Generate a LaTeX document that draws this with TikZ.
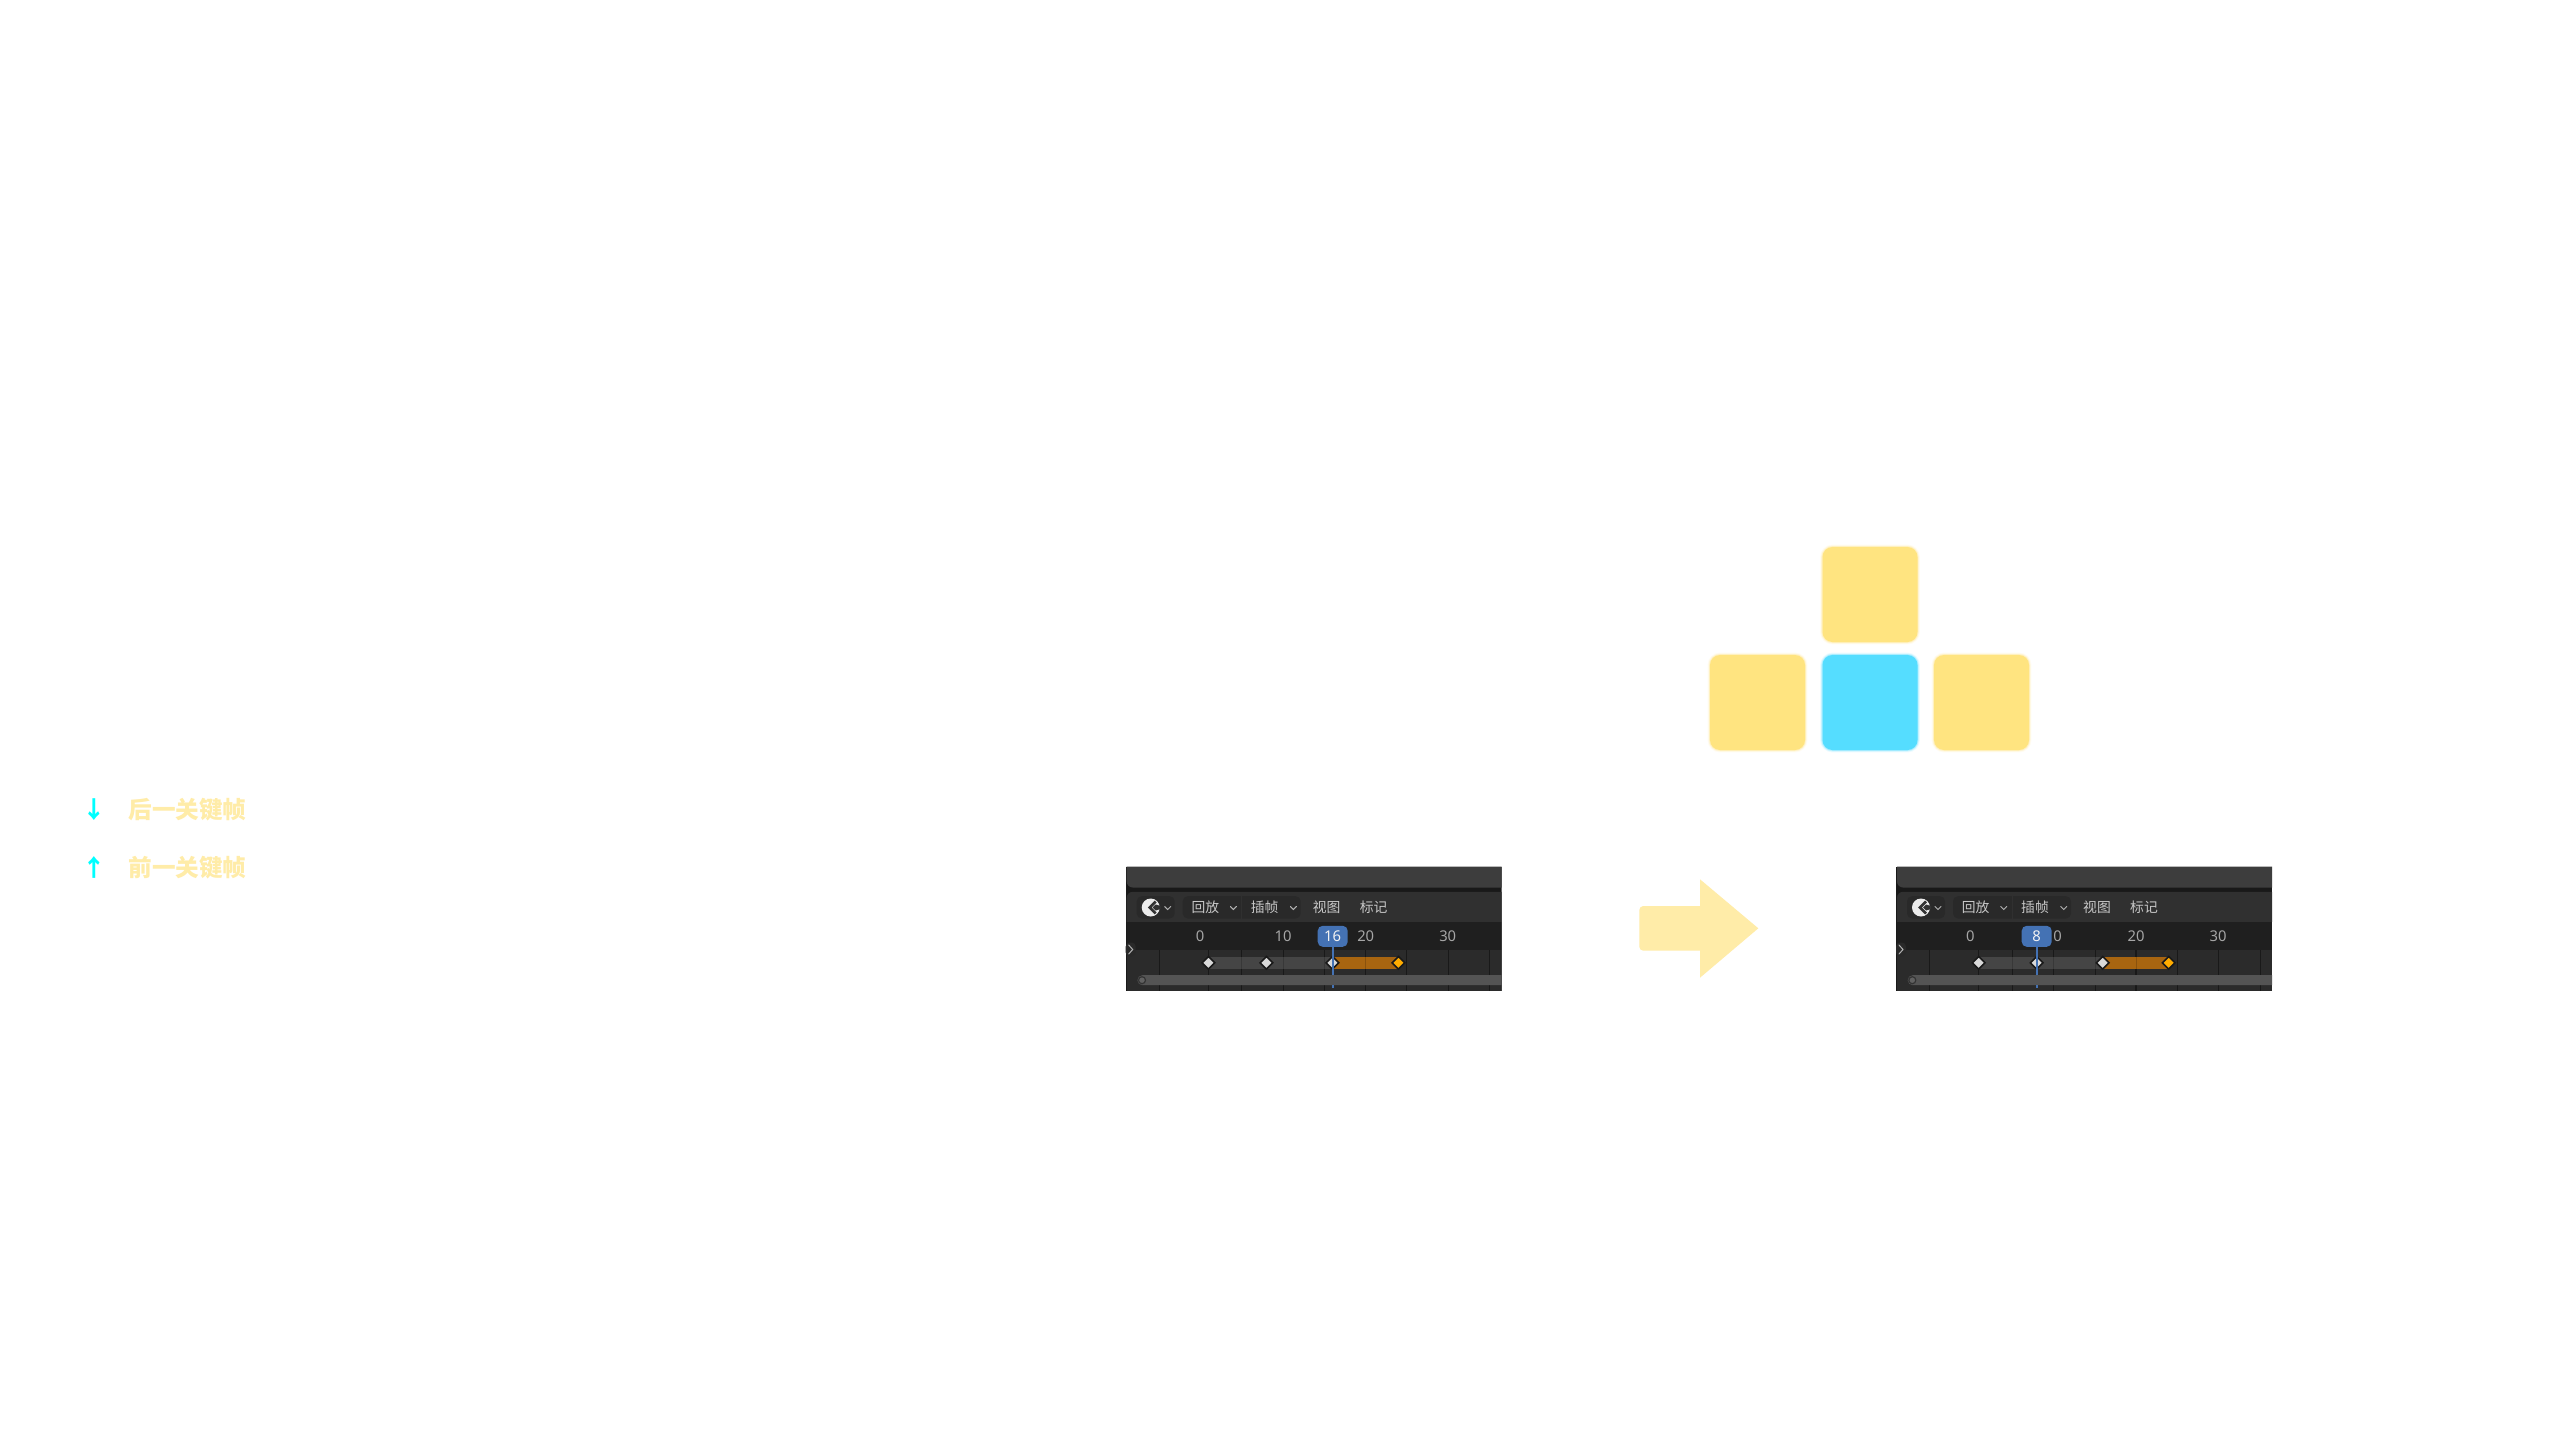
\documentclass[tikz,border=0pt]{standalone}
\usepackage{fontspec}
\newfontfamily\cjk{Noto Sans CJK SC}
\setsansfont{Noto Sans}
\usetikzlibrary{positioning}
\definecolor{keyyellow}{HTML}{FFE480}
\definecolor{keyblue}{HTML}{55DDFF}
\definecolor{paleyellow}{HTML}{FFECA8}
\definecolor{legcyan}{HTML}{00FFFF}
\definecolor{headgray}{HTML}{303030}
\definecolor{curblue}{HTML}{4472B4}
\definecolor{barorange}{HTML}{A86510}
\tikzset{
  tile/.style={rounded corners=5pt},
  menutext/.style={text=black!22!white,inner sep=0pt,font=\cjk\fontsize{6.9}{7}\selectfont},
  numtext/.style={text=black!35!white,inner sep=0pt,font=\sffamily\fontsize{7.4}{8}\selectfont},
  legend/.style={text=paleyellow,anchor=west,inner sep=0pt,font=\cjk\bfseries\fontsize{11.8}{12}\selectfont},
  legarrow/.style={text=legcyan,inner sep=0pt,font=\cjk\bfseries\fontsize{11.8}{12}\selectfont},
  chev/.style={draw=black!30!white,line width=0.5pt,line cap=round},
  keyd/.style={draw=black!90!white,line width=0.8pt,line join=miter},
}
\begin{document}
\begin{tikzpicture}[x=0.5pt,y=-0.5pt]
\useasboundingbox (0,0) rectangle (2560,1440);
\fill[white] (0,0) rectangle (2560,1440);
% legend
\node[legarrow] (down) at (94,810) {↓};
\node[legend] (next) at (128,810) {后一关键帧};
\node[legarrow] (up) at (94,867.5) {↑};
\node[legend] (prev) at (128,867.5) {前一关键帧};
% tiles
\foreach \tx/\ty/\tc in {1822.5/547/keyyellow,1710/655/keyyellow,1822.5/655/keyblue,1934/655/keyyellow}{
  \foreach \lw/\op in {2.4/0.1,1.5/0.18,0.8/0.3}
    \draw[tile,draw=\tc,line width=\lw pt,opacity=\op] (\tx,\ty) rectangle ++(95,95);
  \fill[tile,fill=\tc] (\tx,\ty) rectangle ++(95,95);
}
% big arrow
\fill[paleyellow] (1700,906) [rounded corners=2pt] -- (1639.3,906) -- (1639.3,950.7) [sharp corners] -- (1700,950.7) -- (1700,977.7) -- (1758.3,928.3) -- (1700,879.3) -- cycle;
% timeline panels
\foreach \px/\cur/\curx in {1125.7/16/207,1896/8/140.7}{
\begin{scope}[shift={(\px,866.5)}]
  \clip (0,0) rectangle (376,124);
  \fill[black!90!white] (0,0) rectangle (376,124);
  \fill[black!76!white] (1,0) [rounded corners=3pt] -- (1,21) [sharp corners] -- (376,21) -- (376,0) -- cycle;
  \fill[headgray] (376,25.3) [rounded corners=3pt] -- (1,25.3) [sharp corners] -- (1,55.3) -- (376,55.3) -- cycle;
  \fill[black!88!white] (1,55.3) rectangle (376,83.7);
  \fill[black!83!white] (1,83.7) rectangle (376,124);
  % buttons
  \fill[black!84!white,rounded corners=2.5pt] (11,29.7) rectangle (49,52);
  \fill[black!84!white,rounded corners=2.5pt] (57,29.7) rectangle (175,52);
  \draw[headgray,line width=0.5pt] (116,29.7) -- (116,52);
  \fill[black!8!white] (25,41) circle (9);
  \draw[black!80!white,line width=1.3pt] (30,35) -- (24,41) -- (30,47);
  \fill[black!80!white] (30,38) -- (27,41) -- (30,44) -- (35,42.5) -- (35,39.5) -- cycle;
  \foreach \cx in {42,107.7,167.7}
    \draw[chev] (\cx-3,40) -- (\cx,43) -- (\cx+3,40);
  \node[menutext] (replay-\cur) at (79.7,40.7) {回放};
  \node[menutext] (interp-\cur) at (139,40.7) {插帧};
  \node[menutext] (view-\cur) at (201,40.7) {视图};
  \node[menutext] (mark-\cur) at (248,40.7) {标记};
  % ruler
  \node[numtext] (n0-\cur) at (74.3,70) {0};
  \node[numtext] (n10-\cur) at (157.3,70) {10};
  \node[numtext] (n20-\cur) at (240,70) {20};
  \node[numtext] (n30-\cur) at (322,70) {30};
  % track
  \foreach \tk in {33.7,116,157.7,199,281,364}
    \draw[black!90!white,line width=0.4pt] (\tk,83.7) -- (\tk,124);
  \foreach \tk in {82.7,240,322.7}
    \draw[black!90!white,line width=0.7pt] (\tk,83.7) -- (\tk,124);
  \fill[black!73!white] (82.7,90.3) rectangle (206.7,102.7);
  \fill[barorange] (206.7,90.3) rectangle (272.7,102.7);
  \foreach \tk in {116,157.7,199,240}
    \draw[black,opacity=0.18,line width=0.4pt] (\tk,90.3) -- (\tk,102.7);
  % scrollbar
  \fill[black!67!white,rounded corners=2.5pt] (11.7,108.7) rectangle (384,118.7);
  \draw[black!80!white,fill=black!62!white,line width=0.6pt] (16.3,113.7) circle (3.5);
  % left tab
  \fill[black!84!white,rounded corners=2pt] (0,76) rectangle (10,90);
  \draw[chev] (3,78.5) -- (7,83) -- (3,87.5);
  % keys
  \foreach \kx in {82.7,140.7,206.7}
    \draw[keyd,fill=black!15!white] (\kx-6.3,96.3) -- (\kx,90) -- (\kx+6.3,96.3) -- (\kx,102.6) -- cycle;
  \draw[keyd,fill=orange!65!yellow] (272.7-6.3,96.3) -- (272.7,90) -- (272.7+6.3,96.3) -- (272.7,102.6) -- cycle;
  % current frame
  \draw[curblue,line width=1pt] (\curx,78) -- (\curx,108.7);
  \draw[curblue,line width=1pt] (\curx,118.5) -- (\curx,121);
  \node[fill=curblue,rounded corners=2.5pt,minimum width=15pt,minimum height=10.5pt,inner sep=0pt,text=black!5!white,font=\sffamily\fontsize{7.4}{8}\selectfont] (cur-\cur) at (\curx,69.8) {\cur};
\end{scope}
}
\end{tikzpicture}
\end{document}
